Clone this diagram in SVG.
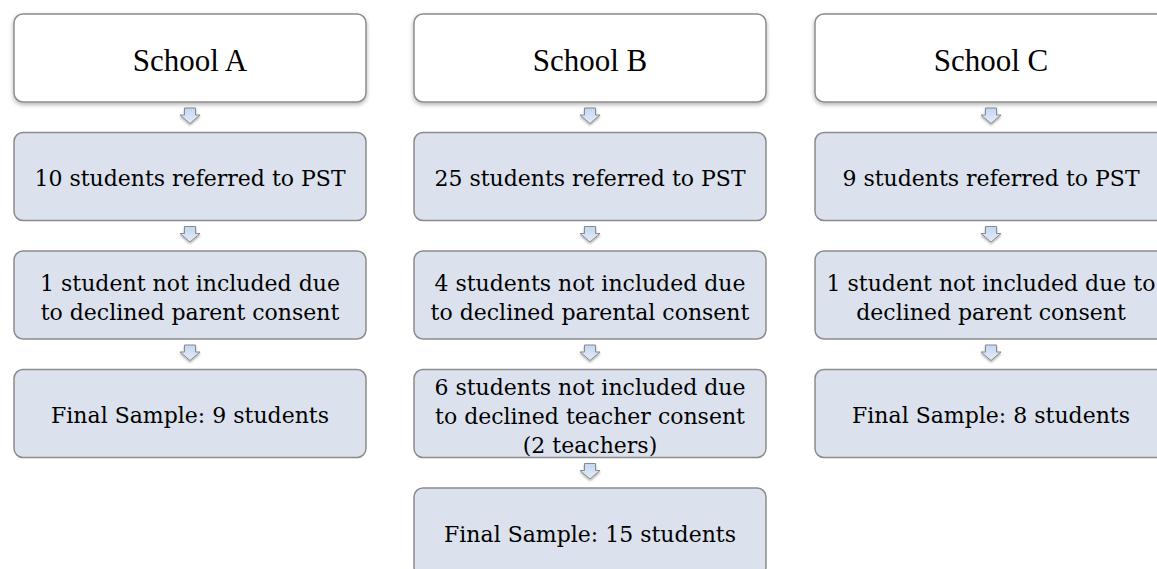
<svg xmlns="http://www.w3.org/2000/svg" width="1157" height="569" viewBox="0 0 1157 569">
<defs>
<filter id="sh" x="-10%" y="-10%" width="120%" height="130%">
<feDropShadow dx="0" dy="2" stdDeviation="2" flood-color="#000" flood-opacity="0.3"/>
</filter>
<filter id="ash" x="-50%" y="-50%" width="200%" height="200%">
<feDropShadow dx="0" dy="1.5" stdDeviation="1.2" flood-color="#000" flood-opacity="0.35"/>
</filter>
<linearGradient id="ag" x1="0" y1="0" x2="0" y2="1">
<stop offset="0" stop-color="#c4d6f3"/>
<stop offset="1" stop-color="#e4ecfa"/>
</linearGradient>
<path id="arr" d="M-5.5,0 H5.5 V7 H10 L0,15.5 L-10,7 H-5.5 Z" fill="url(#ag)" stroke="#8a8a8a" stroke-width="1" filter="url(#ash)"/>
</defs>
<style>
.top{fill:#ffffff;stroke:#8c8c8c;stroke-width:1.5;filter:url(#sh)}
.box{fill:#dce2ed;stroke:#8c8c8c;stroke-width:1.5}
.tt{font-family:"Liberation Serif",serif;font-size:31px;fill:#000;text-anchor:middle}
.bt{font-family:"DejaVu Serif",serif;font-size:22px;fill:#000;text-anchor:middle}
</style>
<rect width="1157" height="569" fill="#ffffff"/>

<g id="connectors">
<use href="#arr" x="190" y="108"/>
<use href="#arr" x="190" y="226.5"/>
<use href="#arr" x="190" y="345"/>
<use href="#arr" x="590" y="108"/>
<use href="#arr" x="590" y="226.5"/>
<use href="#arr" x="590" y="345"/>
<use href="#arr" x="590" y="463.5"/>
<use href="#arr" x="991" y="108"/>
<use href="#arr" x="991" y="226.5"/>
<use href="#arr" x="991" y="345"/>
</g>

<g id="schoolA">
<rect class="top" x="14" y="14" width="352" height="88" rx="9"/>
<text class="tt" x="190" y="71">School A</text>
</g>
<g id="a1">
<rect class="box" x="14" y="132.5" width="352" height="88" rx="9"/>
<text class="bt" x="190" y="186">10 students referred to PST</text>
</g>
<g id="a2">
<rect class="box" x="14" y="251" width="352" height="88" rx="9"/>
<text class="bt" x="190" y="290.5">1 student not included due</text>
<text class="bt" x="190" y="320">to declined parent consent</text>
</g>
<g id="a3">
<rect class="box" x="14" y="369.5" width="352" height="88" rx="9"/>
<text class="bt" x="190" y="423">Final Sample: 9 students</text>
</g>

<g id="schoolB">
<rect class="top" x="414" y="14" width="352" height="88" rx="9"/>
<text class="tt" x="590" y="71">School B</text>
</g>
<g id="b1">
<rect class="box" x="414" y="132.5" width="352" height="88" rx="9"/>
<text class="bt" x="590" y="186">25 students referred to PST</text>
</g>
<g id="b2">
<rect class="box" x="414" y="251" width="352" height="88" rx="9"/>
<text class="bt" x="590" y="290.5">4 students not included due</text>
<text class="bt" x="590" y="320">to declined parental consent</text>
</g>
<g id="b3">
<rect class="box" x="414" y="369.5" width="352" height="88" rx="9"/>
<text class="bt" x="590" y="395">6 students not included due</text>
<text class="bt" x="590" y="424">to declined teacher consent</text>
<text class="bt" x="590" y="453">(2 teachers)</text>
</g>
<g id="b4">
<rect class="box" x="414" y="488" width="352" height="88" rx="9"/>
<text class="bt" x="590" y="541.5">Final Sample: 15 students</text>
</g>

<g id="schoolC">
<rect class="top" x="815" y="14" width="352" height="88" rx="9"/>
<text class="tt" x="991" y="71">School C</text>
</g>
<g id="c1">
<rect class="box" x="815" y="132.5" width="352" height="88" rx="9"/>
<text class="bt" x="991" y="186">9 students referred to PST</text>
</g>
<g id="c2">
<rect class="box" x="815" y="251" width="352" height="88" rx="9"/>
<text class="bt" x="991" y="290.5">1 student not included due to</text>
<text class="bt" x="991" y="320">declined parent consent</text>
</g>
<g id="c3">
<rect class="box" x="815" y="369.5" width="352" height="88" rx="9"/>
<text class="bt" x="991" y="423">Final Sample: 8 students</text>
</g>
</svg>
